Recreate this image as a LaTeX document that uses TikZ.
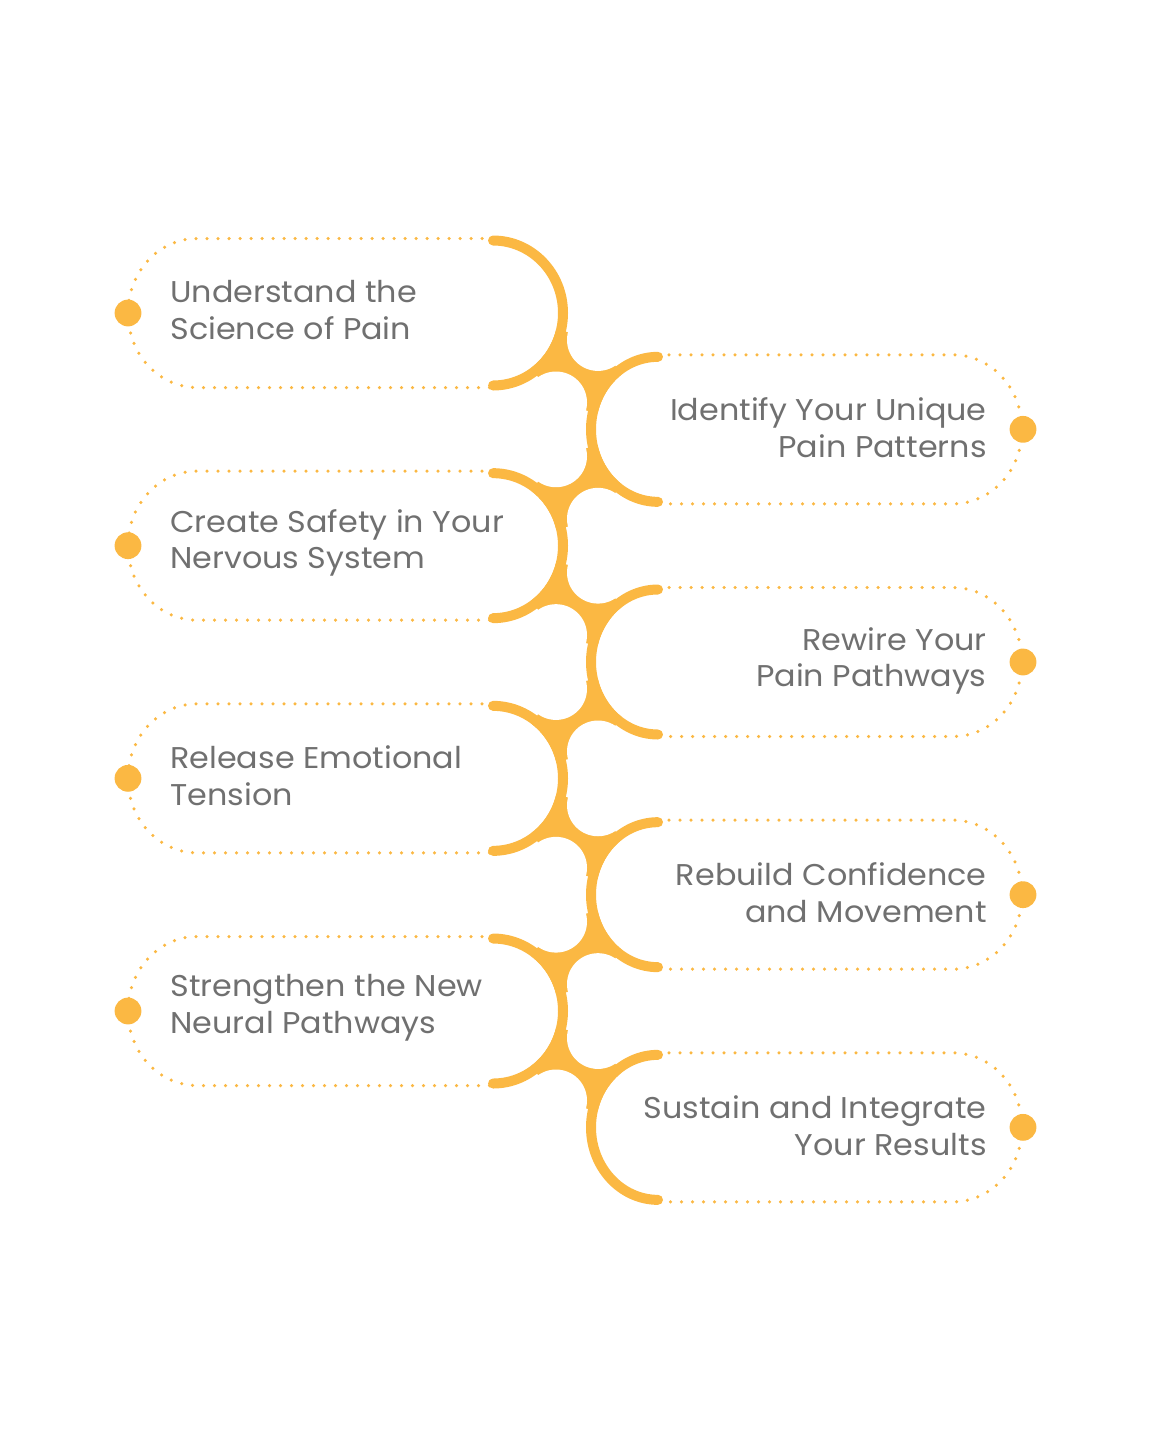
\documentclass[tikz,border=0pt]{standalone}
\usepackage{fontspec}
\setmainfont{Poppins}[FakeStretch=1.06]
\usepackage{tikz}
\usetikzlibrary{positioning}
\definecolor{cSpine}{HTML}{FBB843}
\definecolor{cLabel}{HTML}{707070}
\tikzset{
  spine/.style   ={draw=cSpine, line width=5pt, line cap=round},
  trail/.style   ={draw=cSpine, line width=1.75pt, line cap=round, dash pattern=on 0pt off 5.5pt},
  knob/.style    ={circle, fill=cSpine, inner sep=0pt, minimum size=13.4pt},
  itemtext/.style={font=\fontsize{15}{18.4}\selectfont, text=cLabel, inner sep=0pt},
}

\begin{document}
\begin{tikzpicture}[x=0.5pt,y=-0.5pt]
  \useasboundingbox (0,0) rectangle (1152,1440);
  % bridges between neighbouring arcs
  \foreach \k in {1,...,4}{
    \pgfmathsetmacro{\yl}{313+232.67*(\k-1)}
    \pgfmathsetmacro{\yr}{\yl+116.33}
    \fill[cSpine] (493,\yl) -- (598,\yl+26.9) -- (658,\yr) -- (556,\yl+89.5) -- cycle;
    \ifnum\k<4
      \fill[cSpine] (658,\yr) -- (598,\yr+89.5) -- (493,\yr+116.33) -- (556,\yr+26.9) -- cycle;
    \fi
  }
  % holes: insides of the arcs and the fillets
  \foreach \k in {1,...,4}{
    \pgfmathsetmacro{\yl}{313+232.67*(\k-1)}
    \pgfmathsetmacro{\yr}{\yl+116.33}
    \fill[white] (493,\yl) ellipse[x radius=65, y radius=67.5];
    \fill[white] (658,\yr) ellipse[x radius=62, y radius=67.5];
    \fill[white] (598,\yl+26.9) circle[radius=31];
    \fill[white] (556,\yl+89.5) circle[radius=31];
    \ifnum\k<4
      \fill[white] (556,\yr+26.9) circle[radius=31];
      \fill[white] (598,\yr+89.5) circle[radius=31];
    \fi
  }
  % arcs, dotted outlines, knobs
  \foreach \k in {1,...,4}{
    \pgfmathsetmacro{\yl}{313+232.67*(\k-1)}
    \pgfmathsetmacro{\yr}{\yl+116.33}
    \draw[spine] (493,\yl-72.5) arc[start angle=-90, end angle=90, x radius=70, y radius=72.5];
    \draw[spine] (658,\yr-72.5) arc[start angle=270, end angle=90, x radius=67, y radius=72.5];
    \draw[trail] (493,\yl-74.5) -- (197,\yl-74.5)
      arc[start angle=270, end angle=90, x radius=69, y radius=74.5] -- (493,\yl+74.5);
    \draw[trail] (658,\yr-74.5) -- (953,\yr-74.5)
      arc[start angle=-90, end angle=90, x radius=69, y radius=74.5] -- (658,\yr+74.5);
    \node[knob] (knobL\k) at (128,\yl) {};
    \node[knob] (knobR\k) at (1023,\yr) {};
  }
  % texts
  \node[itemtext, anchor=west, align=left] (textL1) at (170,310) {Understand the\\Science of Pain};
  \node[itemtext, anchor=east, align=right] (textR1) at (987,428) {Identify Your Unique\\Pain Patterns};
  \node[itemtext, anchor=west, align=left] (textL2) at (170,543) {Create Safety in Your\\Nervous System};
  \node[itemtext, anchor=east, align=right] (textR2) at (987,661) {Rewire Your\\Pain Pathways};
  \node[itemtext, anchor=west, align=left] (textL3) at (170,776) {Release Emotional\\Tension};
  \node[itemtext, anchor=east, align=right] (textR3) at (987,893) {Rebuild Confidence\\and Movement};
  \node[itemtext, anchor=west, align=left] (textL4) at (170,1008) {Strengthen the New\\Neural Pathways};
  \node[itemtext, anchor=east, align=right] (textR4) at (987,1126) {Sustain and Integrate\\Your Results};
\end{tikzpicture}
\end{document}
